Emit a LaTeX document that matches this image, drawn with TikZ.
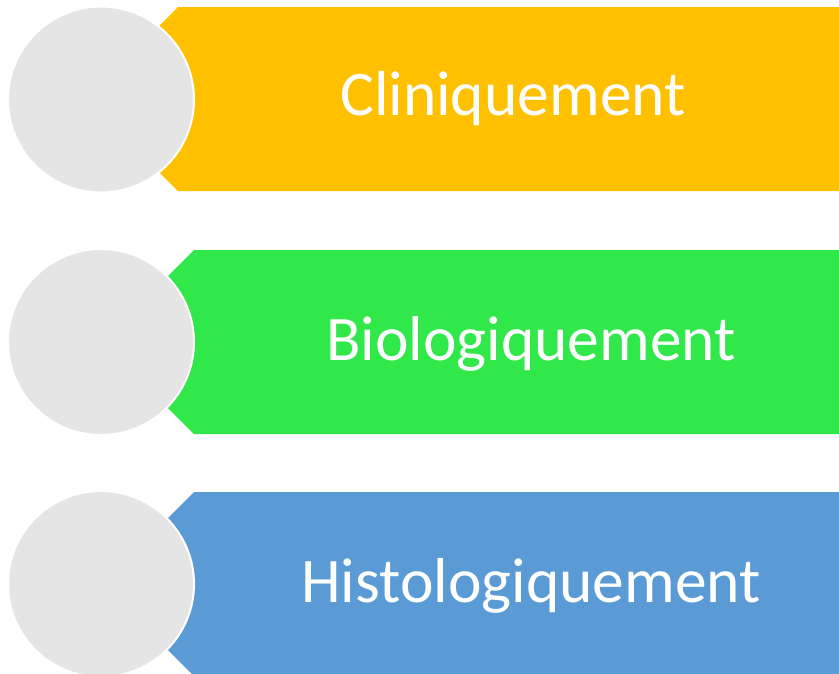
\documentclass[tikz,border=0pt]{standalone}
\usepackage{fontspec}
\setmainfont{Carlito}
\definecolor{bandyellow}{HTML}{FFC000}
\definecolor{bandgreen}{HTML}{31E84A}
\definecolor{bandblue}{HTML}{5B9BD5}
\definecolor{disc}{HTML}{E5E5E5}
\begin{document}
\begin{tikzpicture}[x=1pt,y=-1pt,
  band/.style={draw=none},
  disc/.style={fill=disc,draw=white,line width=2pt},
  label/.style={text=white,font=\fontsize{63.5}{63.5}\selectfont,anchor=base,inner sep=0pt}]
\useasboundingbox (0,0) rectangle (839,673);
% ribbons with a pointed left end
\fill[bandyellow] (178,7) -- (839,7) -- (839,191) -- (178,191) -- (86,99) -- cycle;
\fill[bandgreen] (194,250) -- (839,250) -- (839,434) -- (194,434) -- (102,342) -- cycle;
\fill[bandblue] (194,492) -- (839,492) -- (839,676) -- (194,676) -- (102,584) -- cycle;
% grey discs over the ribbon tips
\draw[disc] (101,99.5) circle (93);
\draw[disc] (101,342) circle (93);
\draw[disc] (101,584) circle (93);
% labels
\node[label] (t1) at (513,115) {Cliniquement};
\node[label] (t2) at (531,360) {Biologiquement};
\node[label] (t3) at (531,602) {Histologiquement};
\end{tikzpicture}
\end{document}
